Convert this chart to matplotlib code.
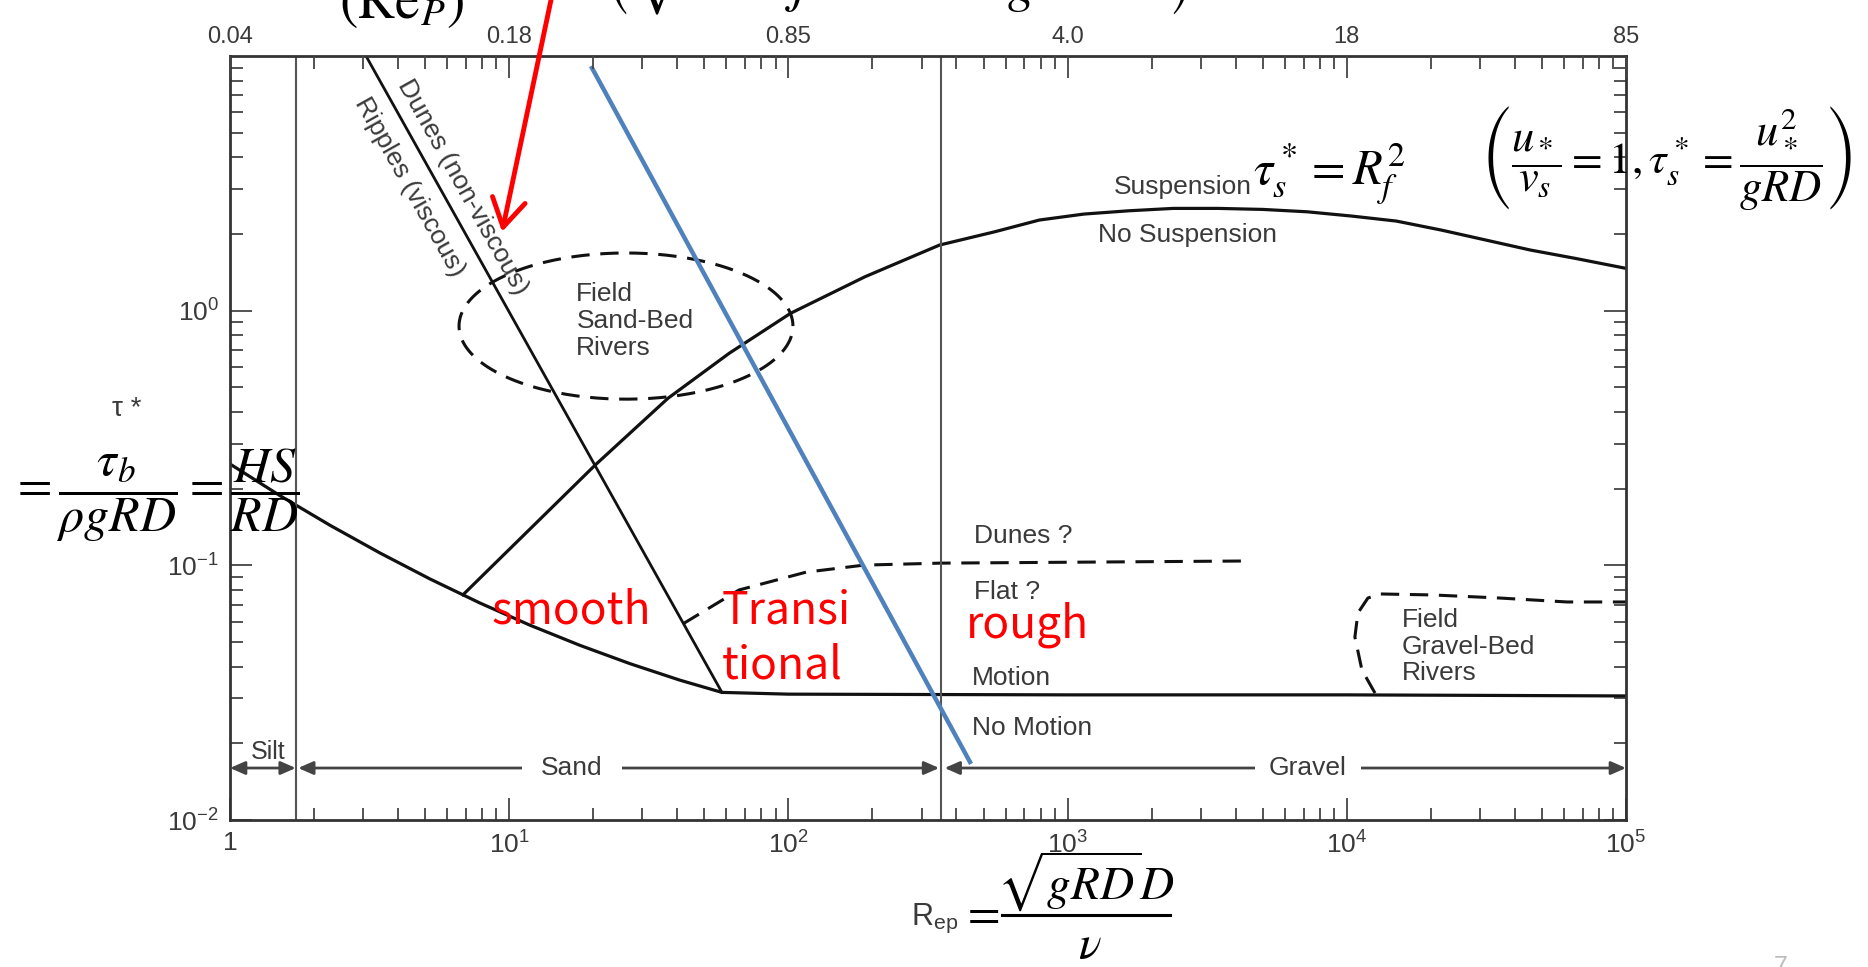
#!/usr/bin/env python3
"""Bedform / sediment-motion regime diagram (tau* vs particle Reynolds number)."""

import numpy as np
import matplotlib
matplotlib.use("Agg")
import matplotlib.pyplot as plt
from matplotlib.lines import Line2D

plt.rcParams["font.family"] = ["Liberation Sans", "DejaVu Sans"]
plt.rcParams["mathtext.fontset"] = "stix"

# ---- data ----
rep_ticks = [1, 10, 100, 1000, 1e4, 1e5]
rep_labels = ["1", r"$\mathregular{10^{1}}$", r"$\mathregular{10^{2}}$",
              r"$\mathregular{10^{3}}$", r"$\mathregular{10^{4}}$", r"$\mathregular{10^{5}}$"]
grain_labels = ["0.04", "0.18", "0.85", "4.0", "18", "85"]
tau_ticks = [0.01, 0.1, 1]
tau_labels = [r"$\mathregular{10^{-2}}$", r"$\mathregular{10^{-1}}$", r"$\mathregular{10^{0}}$"]

# threshold of motion (Shields)
shields_rep = [1, 1.51, 2.28, 3.445, 5.204, 7.862, 11.87, 17.93, 27.08, 40.9, 57.8,
               100, 1000, 1e4, 1e5]
shields_tau = [0.250, 0.1878, 0.1437, 0.1118, 0.0884, 0.0711, 0.0582, 0.0485, 0.0411,
               0.0354, 0.0317, 0.0312, 0.031, 0.031, 0.0307]

# suspension threshold
susp_rep = [6.83, 20.32, 37.02, 61.32, 101.7, 188.1, 347.9, 547.6, 791.8, 1144, 1654,
            2389, 3453, 4991, 7207, 10420, 15050, 21770, 31450, 45460, 65680, 1e5]
susp_tau = [0.0766, 0.2476, 0.4526, 0.6798, 0.9759, 1.359, 1.81, 2.04, 2.269, 2.395, 2.467,
            2.521, 2.521, 2.498, 2.445, 2.352, 2.248, 2.073, 1.894, 1.730, 1.605, 1.466]

# ripples / dunes boundary
ripple_rep = [3.07, 57.8]
ripple_tau = [10, 0.0317]

# added blue line
blue_rep = [19.8, 447]
blue_tau = [8.97, 0.0169]

# dunes? / flat? dashed boundary
duneflat_rep = [42.0, 66.5, 115.6, 186.5, 349, 4355]
duneflat_tau = [0.059, 0.080, 0.094, 0.1002, 0.102, 0.104]

# field gravel-bed rivers (dashed)
gravel_rep = [12620, 11330, 10690, 10960, 11900, 13150, 20360, 35400, 61500, 1e5]
gravel_tau = [0.0315, 0.0388, 0.0523, 0.065, 0.0744, 0.0772, 0.0765, 0.0744, 0.0718, 0.0718]

# field sand-bed rivers ellipse: centre (Rep, tau*), half-axes in decades
sand_center = (26.2, 0.87)
sand_halfaxes = (0.598, 0.287)

# size-class boundaries
silt_sand_rep = 1.72
sand_gravel_rep = 352
class_tau = 0.016

# red arrow tip
arrow_tip = (9.43, 2.04)

gray = "#3a3a3a"
black = "#111111"
W, H = 1868, 967

fig = plt.figure(figsize=(18.68, 9.67), dpi=100)
ax = fig.add_axes([230 / W, 1 - 820 / H, 1396 / W, 764 / H])
ax.set_xscale("log")
ax.set_yscale("log")
ax.set_xlim(1, 1e5)
ax.set_ylim(0.01, 10)

# curves
ax.plot(shields_rep, shields_tau, color=black, lw=2.3)
ax.plot(susp_rep, susp_tau, color=black, lw=2.3)
ax.plot(ripple_rep, ripple_tau, color=black, lw=2.0)
ax.plot(duneflat_rep, duneflat_tau, color=black, lw=2.2, dashes=(6, 3.5))
ax.plot(gravel_rep, gravel_tau, color=black, lw=2.2, dashes=(6, 3.5), clip_on=False)

t = np.linspace(0, 2 * np.pi, 300)
ell_rep = 10 ** (np.log10(sand_center[0]) + sand_halfaxes[0] * np.cos(t))
ell_tau = 10 ** (np.log10(sand_center[1]) + sand_halfaxes[1] * np.sin(t))
ax.plot(ell_rep, ell_tau, color=black, lw=2.2, dashes=(6, 3.5))

ax.axvline(silt_sand_rep, color="#555555", lw=1.5)
ax.axvline(sand_gravel_rep, color="#555555", lw=1.5)

ax.plot(blue_rep, blue_tau, color="#4f81bd", lw=3.2, zorder=5)

# size class arrows
for lo, hi in [(1.0, silt_sand_rep), (silt_sand_rep * 1.02, sand_gravel_rep * 0.985),
               (sand_gravel_rep * 1.03, 1e5)]:
    ax.annotate("", xy=(hi, class_tau), xytext=(lo, class_tau),
                arrowprops=dict(arrowstyle="<|-|>,head_length=0.5,head_width=0.22",
                                color="#444444", lw=2.0, shrinkA=0, shrinkB=0,
                                mutation_scale=18))
ax.text(1.37, 0.0185, "Silt", fontsize=18, color=gray, ha="center", va="center")
ax.text(16.8, class_tau, "Sand", fontsize=19, color=gray, ha="center", va="center",
        bbox=dict(facecolor="white", edgecolor="none", pad=14))
ax.text(7265, class_tau, "Gravel", fontsize=19, color=gray, ha="center", va="center",
        bbox=dict(facecolor="white", edgecolor="none", pad=10))

# region labels
lab = dict(fontsize=19, color=gray)
ax.text(2590, 3.06, "Suspension", ha="center", va="center", **lab)
ax.text(2680, 1.98, "No Suspension", ha="center", va="center", **lab)
ax.text(17.4, 0.91, "Field\nSand-Bed\nRivers", ha="left", va="center", linespacing=1.15, **lab)
ax.text(462, 0.130, "Dunes ?", ha="left", va="center", **lab)
ax.text(462, 0.0785, "Flat ?", ha="left", va="center", **lab)
ax.text(455, 0.0361, "Motion", ha="left", va="center", **lab)
ax.text(455, 0.0230, "No Motion", ha="left", va="center", **lab)
ax.text(15780, 0.048, "Field\nGravel-Bed\nRivers", ha="left", va="center", linespacing=1.15, **lab)

p0, p1 = ax.transData.transform([(ripple_rep[0], ripple_tau[0]), (ripple_rep[1], ripple_tau[1])])
ang = np.degrees(np.arctan2(p1[1] - p0[1], p1[0] - p0[0]))
ax.text(6.8, 3.06, "Dunes (non-viscous)", rotation=ang, rotation_mode="anchor",
        ha="center", va="center", **lab)
ax.text(4.41, 3.06, "Ripples (viscous)", rotation=ang, rotation_mode="anchor",
        ha="center", va="center", **lab)

# red annotations
red = dict(fontsize=32, color="#ff0000", family=["Noto Sans CJK KR", "DejaVu Sans"])
ax.text(8.67, 0.0593, "smooth", ha="left", va="baseline", **red)
ax.text(57.7, 0.0593, "Transi", ha="left", va="baseline", **red)
ax.text(57.7, 0.0361, "tional", ha="left", va="baseline", **red)
ax.text(433, 0.0523, "rough", ha="left", va="baseline", **red)

ax.annotate("", xy=arrow_tip, xycoords="data", xytext=(551 / W, 1.0),
            textcoords="figure fraction", annotation_clip=False,
            arrowprops=dict(arrowstyle="->,head_length=0.5,head_width=0.3",
                            color="#ff0000", lw=3.5, shrinkA=0, shrinkB=0,
                            mutation_scale=40), zorder=6)

# axes styling
ax.set_xticks(rep_ticks)
ax.set_xticklabels(rep_labels)
ax.set_yticks(tau_ticks)
ax.set_yticklabels(tau_labels)
ax.xaxis.set_minor_formatter(matplotlib.ticker.NullFormatter())
ax.yaxis.set_minor_formatter(matplotlib.ticker.NullFormatter())
ax.tick_params(which="both", direction="in", right=True, color="#444444",
               labelcolor=gray, labelsize=19, width=1.3)
ax.tick_params(which="major", length=16, pad=8)
ax.tick_params(which="minor", length=9)
for s in ax.spines.values():
    s.set_color("#333333")
    s.set_linewidth(2.0)

ax2 = ax.twiny()
ax2.set_xscale("log")
ax2.set_xlim(ax.get_xlim())
ax2.set_xticks(rep_ticks)
ax2.set_xticklabels(grain_labels)
ax2.xaxis.set_minor_formatter(matplotlib.ticker.NullFormatter())
ax2.tick_params(which="both", direction="in", color="#444444", labelcolor=gray,
                labelsize=17, width=1.3)
ax2.tick_params(which="major", length=16, pad=6)
ax2.tick_params(which="minor", length=9)
for s in ax2.spines.values():
    s.set_visible(False)

# equations / labels around the frame
fig.text(127 / W, 1 - 409 / H, "τ *", fontsize=20, color=gray, ha="center", va="center")
fig.text(10 / W, 1 - 495 / H, r"$=\dfrac{\tau_b}{\rho gRD}=\dfrac{HS}{RD}$",
         fontsize=36, ha="left", va="center")
fig.text(1253 / W, 1 - 185 / H, r"$\tau_s^* = R_f^2$", fontsize=35,
         ha="left", va="baseline")
fig.text(1480 / W, 1 - 158 / H,
         r"$\left(\dfrac{u_*}{v_s} = 1, \tau_s^* = \dfrac{u_*^2}{gRD}\right)$",
         fontsize=32, ha="left", va="center")

# equation cut off by the top edge
fig.text(339 / W, 1 - 18 / H, r"$\left(\mathrm{Re}_P\right)$", fontsize=40,
         ha="left", va="baseline")
fig.text(603 / W, 1.0,
         r"$\left(\sqrt{RD}\;\;j\qquad\qquad\quad g\qquad\quad\ \right)$",
         fontsize=40, ha="left", va="baseline")

# Rep definition below the axis
fig.text(958 / W, 1 - 918 / H, r"R$_{\mathregular{ep}}$", fontsize=22,
         color=gray, ha="right", va="center")
fig.text(961 / W, 1 - 915 / H, r"$=$", fontsize=34, ha="left", va="center")
fig.text(1086 / W, 1 - 900 / H, r"$\sqrt{gRD}D$", fontsize=34, ha="center", va="baseline")
fig.add_artist(Line2D([1002 / W, 1170 / W], [1 - 915 / H, 1 - 915 / H],
                      transform=fig.transFigure, color="black", lw=2.2))
fig.text(1090 / W, 1 - 924 / H, r"$\nu$", fontsize=34, ha="center", va="top")

fig.text(1781 / W, 0.0, "7", fontsize=18, color="#bbbbbb", ha="center", va="center")

fig.savefig("out.png", dpi=100)
